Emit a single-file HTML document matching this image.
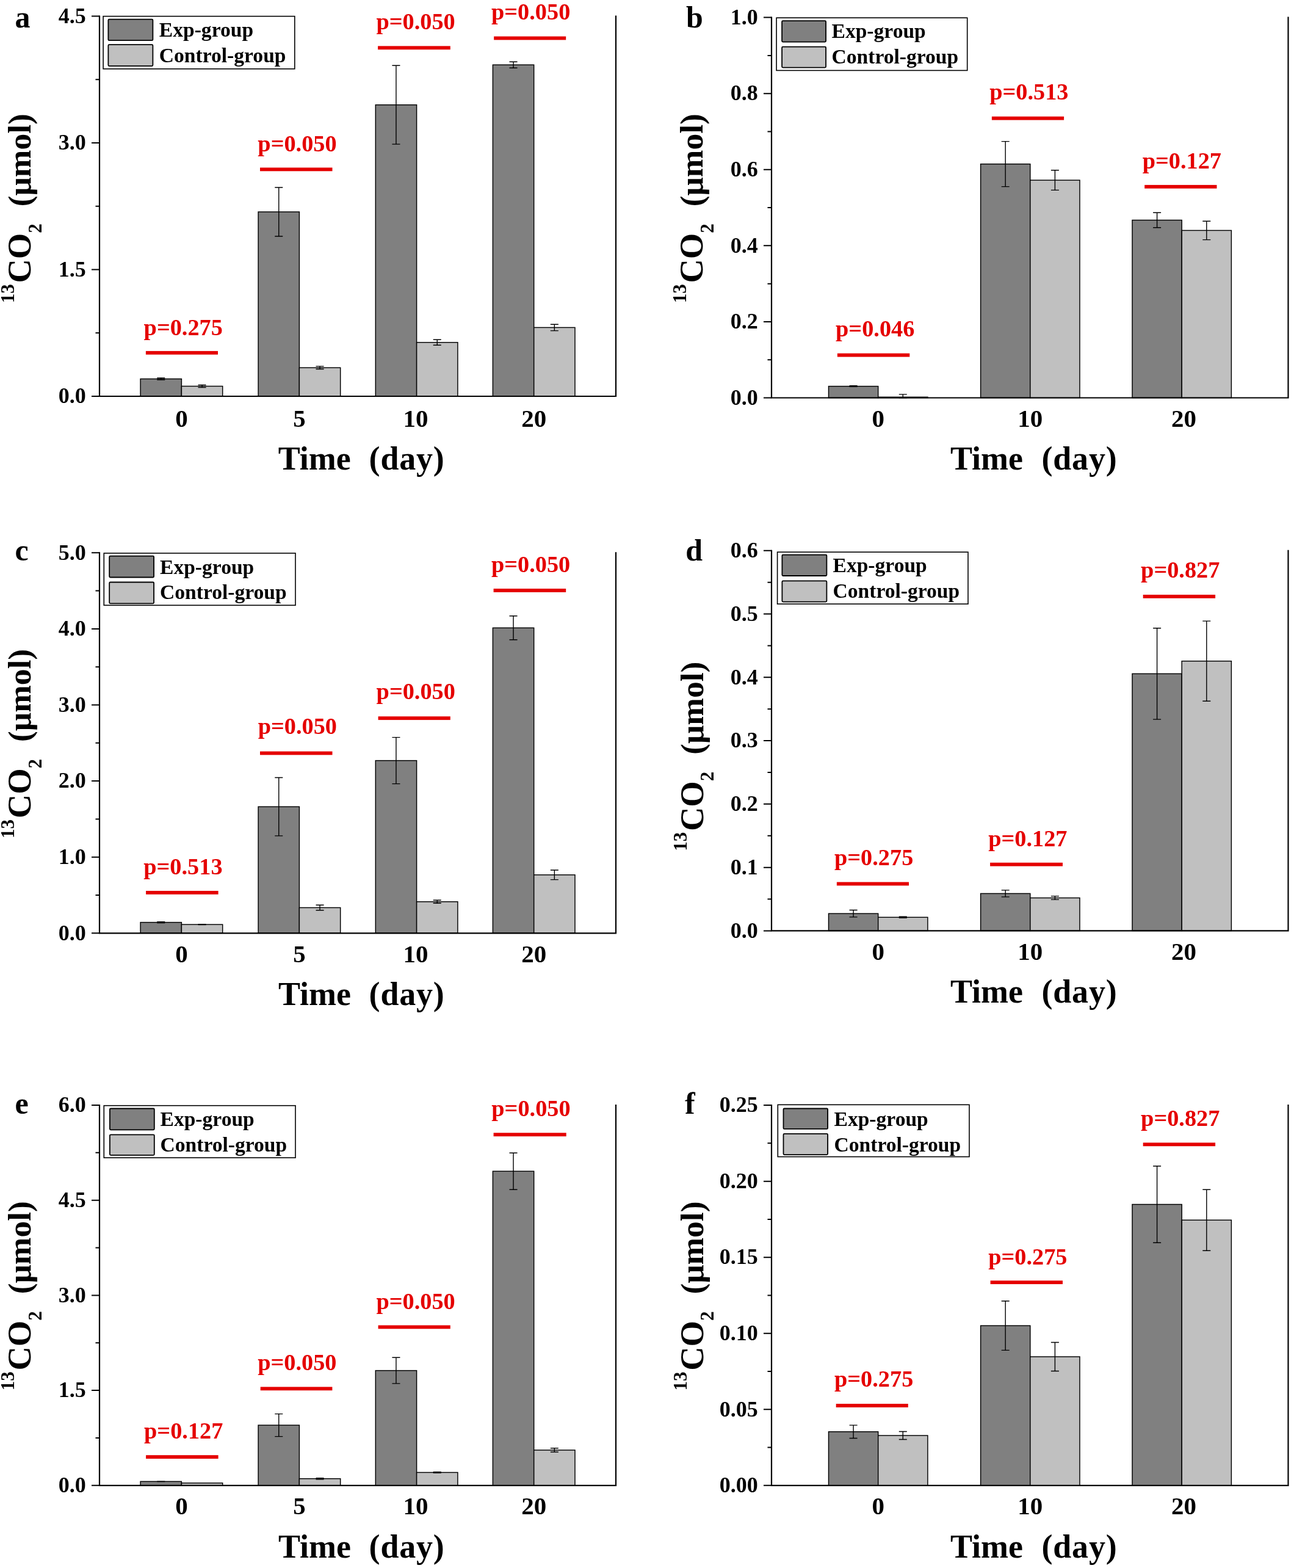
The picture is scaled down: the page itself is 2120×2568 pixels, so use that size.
<!DOCTYPE html><html><head><meta charset="utf-8"><title>13CO2 figure</title><style>html,body{margin:0;padding:0;background:#fff;}svg{display:block;}text{font-family:"Liberation Serif", "Times New Roman", serif;font-weight:bold;}</style></head><body>
<svg width="2120" height="2568" viewBox="0 0 2120 2568">
<rect x="0" y="0" width="2120" height="2568" fill="#fff"/>
<g>
<rect x="230.1" y="620.5" width="67.3" height="28.5" fill="#808080" stroke="#000" stroke-width="1.45"/>
<rect x="297.4" y="632.5" width="67.3" height="16.5" fill="#c0c0c0" stroke="#000" stroke-width="1.45"/>
<path d="M257.25 619H270.25M263.75 619V622M257.25 622H270.25" stroke="#000" stroke-width="1.4" fill="none"/>
<path d="M324.55 630.5H337.55M331.05 630.5V634.5M324.55 634.5H337.55" stroke="#000" stroke-width="1.4" fill="none"/>
<rect x="423.1" y="347" width="67.3" height="302" fill="#808080" stroke="#000" stroke-width="1.45"/>
<rect x="490.4" y="602.2" width="67.3" height="46.8" fill="#c0c0c0" stroke="#000" stroke-width="1.45"/>
<path d="M450.25 307H463.25M456.75 307V387M450.25 387H463.25" stroke="#000" stroke-width="1.4" fill="none"/>
<path d="M517.55 599.9H530.55M524.05 599.9V604.5M517.55 604.5H530.55" stroke="#000" stroke-width="1.4" fill="none"/>
<rect x="615.3" y="171.7" width="67.3" height="477.3" fill="#808080" stroke="#000" stroke-width="1.45"/>
<rect x="682.6" y="560.8" width="67.3" height="88.2" fill="#c0c0c0" stroke="#000" stroke-width="1.45"/>
<path d="M642.45 107.3H655.45M648.95 107.3V236.1M642.45 236.1H655.45" stroke="#000" stroke-width="1.4" fill="none"/>
<path d="M709.75 556.3H722.75M716.25 556.3V565.3M709.75 565.3H722.75" stroke="#000" stroke-width="1.4" fill="none"/>
<rect x="807.4" y="106.2" width="67.3" height="542.8" fill="#808080" stroke="#000" stroke-width="1.45"/>
<rect x="874.7" y="536.4" width="67.3" height="112.6" fill="#c0c0c0" stroke="#000" stroke-width="1.45"/>
<path d="M834.55 101.2H847.55M841.05 101.2V111.2M834.55 111.2H847.55" stroke="#000" stroke-width="1.4" fill="none"/>
<path d="M901.85 531.2H914.85M908.35 531.2V541.6M901.85 541.6H914.85" stroke="#000" stroke-width="1.4" fill="none"/>
<path d="M163 26.5V649H1009V26.5" stroke="#000" stroke-width="2.2" fill="none" stroke-linejoin="miter" stroke-linecap="square"/>
<path d="M150 649H163M156.5 545.25H163M150 441.5H163M156.5 337.75H163M150 234H163M156.5 130.25H163M150 26.5H163" stroke="#000" stroke-width="2" fill="none"/>
<text x="140.8" y="660.3" font-size="36" text-anchor="end">0.0</text>
<text x="140.8" y="452.8" font-size="36" text-anchor="end">1.5</text>
<text x="140.8" y="245.3" font-size="36" text-anchor="end">3.0</text>
<text x="140.8" y="37.8" font-size="36" text-anchor="end">4.5</text>
<text x="297.4" y="699" font-size="41" text-anchor="middle">0</text>
<text x="490.4" y="699" font-size="41" text-anchor="middle">5</text>
<text x="681.1" y="699" font-size="41" text-anchor="middle">10</text>
<text x="874.7" y="699" font-size="41" text-anchor="middle">20</text>
<text y="769.3" font-size="54"><tspan x="455.8">Time</tspan><tspan x="604.6" letter-spacing="0.8">(day)</tspan></text>
<text transform="rotate(-90)" font-size="53"><tspan x="-496.3" y="23" font-size="31">13</tspan><tspan x="-463.5" y="50" font-size="54.5">CO</tspan><tspan x="-381.8" y="67.5" font-size="31">2</tspan><tspan x="-338.3" y="50" font-size="53.5">(μmol)</tspan></text>
<text x="300.25" y="548.7" font-size="38.3" fill="#e50000" text-anchor="middle">p=0.275</text>
<rect x="238.9" y="574.9" width="118.1" height="5.8" fill="#e50000"/>
<text x="487" y="248" font-size="38.3" fill="#e50000" text-anchor="middle">p=0.050</text>
<rect x="426" y="274.5" width="118.5" height="5.8" fill="#e50000"/>
<text x="681.05" y="48.3" font-size="38.3" fill="#e50000" text-anchor="middle">p=0.050</text>
<rect x="619.1" y="75.4" width="118.7" height="5.8" fill="#e50000"/>
<text x="869.65" y="32.2" font-size="38.3" fill="#e50000" text-anchor="middle">p=0.050</text>
<rect x="809.2" y="59.6" width="118" height="5.8" fill="#e50000"/>
<rect x="169.1" y="26.65" width="313.7" height="86.15" fill="#fff" stroke="#000" stroke-width="1.6"/>
<rect x="177.4" y="31.7" width="73" height="34.5" fill="#808080" stroke="#000" stroke-width="1.8" rx="1.5"/>
<rect x="177.4" y="73.2" width="73" height="34.9" fill="#c0c0c0" stroke="#000" stroke-width="1.8" rx="1.5"/>
<text x="260.8" y="59.9" font-size="33.6">Exp-group</text>
<text x="260.8" y="101.7" font-size="33.6">Control-group</text>
<text x="24.6" y="45" font-size="50">a</text>
</g>
<g>
<rect x="1357.5" y="632.6" width="81.2" height="18.9" fill="#808080" stroke="#000" stroke-width="1.45"/>
<rect x="1438.7" y="650.3" width="81.2" height="1.2" fill="#c0c0c0" stroke="#000" stroke-width="1.45"/>
<path d="M1391.6 631.8H1404.6M1398.1 631.8V633.4M1391.6 633.4H1404.6" stroke="#000" stroke-width="1.4" fill="none"/>
<path d="M1472.8 645.9H1485.8M1479.3 645.9V651.5M1472.8 651.5H1485.8" stroke="#000" stroke-width="1.4" fill="none"/>
<rect x="1606.6" y="268.6" width="81.2" height="382.9" fill="#808080" stroke="#000" stroke-width="1.45"/>
<rect x="1687.8" y="295.1" width="81.2" height="356.4" fill="#c0c0c0" stroke="#000" stroke-width="1.45"/>
<path d="M1640.7 231.6H1653.7M1647.2 231.6V305.6M1640.7 305.6H1653.7" stroke="#000" stroke-width="1.4" fill="none"/>
<path d="M1721.9 278.8H1734.9M1728.4 278.8V311.4M1721.9 311.4H1734.9" stroke="#000" stroke-width="1.4" fill="none"/>
<rect x="1855" y="360.5" width="81.2" height="291" fill="#808080" stroke="#000" stroke-width="1.45"/>
<rect x="1936.2" y="377.4" width="81.2" height="274.1" fill="#c0c0c0" stroke="#000" stroke-width="1.45"/>
<path d="M1889.1 348.2H1902.1M1895.6 348.2V372.8M1889.1 372.8H1902.1" stroke="#000" stroke-width="1.4" fill="none"/>
<path d="M1970.3 362.2H1983.3M1976.8 362.2V392.6M1970.3 392.6H1983.3" stroke="#000" stroke-width="1.4" fill="none"/>
<path d="M1264 28.6V651.5H2110.5V28.6" stroke="#000" stroke-width="2.2" fill="none" stroke-linejoin="miter" stroke-linecap="square"/>
<path d="M1251 651.5H1264M1257.5 589.21H1264M1251 526.92H1264M1257.5 464.63H1264M1251 402.34H1264M1257.5 340.05H1264M1251 277.76H1264M1257.5 215.47H1264M1251 153.18H1264M1257.5 90.89H1264M1251 28.6H1264" stroke="#000" stroke-width="2" fill="none"/>
<text x="1241.8" y="662.8" font-size="36" text-anchor="end">0.0</text>
<text x="1241.8" y="538.22" font-size="36" text-anchor="end">0.2</text>
<text x="1241.8" y="413.64" font-size="36" text-anchor="end">0.4</text>
<text x="1241.8" y="289.06" font-size="36" text-anchor="end">0.6</text>
<text x="1241.8" y="164.48" font-size="36" text-anchor="end">0.8</text>
<text x="1241.8" y="39.9" font-size="36" text-anchor="end">1.0</text>
<text x="1438.7" y="699" font-size="41" text-anchor="middle">0</text>
<text x="1687.8" y="699" font-size="41" text-anchor="middle">10</text>
<text x="1939.4" y="699" font-size="41" text-anchor="middle">20</text>
<text y="769.1" font-size="54"><tspan x="1557">Time</tspan><tspan x="1706.5" letter-spacing="0.8">(day)</tspan></text>
<text transform="rotate(-90)" font-size="53"><tspan x="-496.3" y="1124.3" font-size="31">13</tspan><tspan x="-463.5" y="1151.3" font-size="54.5">CO</tspan><tspan x="-381.8" y="1168.8" font-size="31">2</tspan><tspan x="-338.3" y="1151.3" font-size="53.5">(μmol)</tspan></text>
<text x="1433.7" y="551" font-size="38.3" fill="#e50000" text-anchor="middle">p=0.046</text>
<rect x="1371.9" y="578.7" width="118.4" height="5.8" fill="#e50000"/>
<text x="1685.8" y="163" font-size="38.3" fill="#e50000" text-anchor="middle">p=0.513</text>
<rect x="1624.9" y="190.8" width="118.2" height="5.8" fill="#e50000"/>
<text x="1936.35" y="275.5" font-size="38.3" fill="#e50000" text-anchor="middle">p=0.127</text>
<rect x="1875.2" y="302.9" width="118.3" height="5.8" fill="#e50000"/>
<rect x="1272.1" y="29.2" width="312.6" height="86.2" fill="#fff" stroke="#000" stroke-width="1.6"/>
<rect x="1281.1" y="34.2" width="72" height="34.4" fill="#808080" stroke="#000" stroke-width="1.8" rx="1.5"/>
<rect x="1281.1" y="76.7" width="72" height="33.9" fill="#c0c0c0" stroke="#000" stroke-width="1.8" rx="1.5"/>
<text x="1362.5" y="62.1" font-size="33.6">Exp-group</text>
<text x="1362.5" y="104.2" font-size="33.6">Control-group</text>
<text x="1124" y="45" font-size="50">b</text>
</g>
<g>
<rect x="230.1" y="1510.6" width="67.3" height="17.7" fill="#808080" stroke="#000" stroke-width="1.45"/>
<rect x="297.4" y="1514.1" width="67.3" height="14.2" fill="#c0c0c0" stroke="#000" stroke-width="1.45"/>
<path d="M257.25 1509.6H270.25M263.75 1509.6V1511.6M257.25 1511.6H270.25" stroke="#000" stroke-width="1.4" fill="none"/>
<path d="M324.55 1513.6H337.55M331.05 1513.6V1514.6M324.55 1514.6H337.55" stroke="#000" stroke-width="1.4" fill="none"/>
<rect x="423.1" y="1321.2" width="67.3" height="207.1" fill="#808080" stroke="#000" stroke-width="1.45"/>
<rect x="490.4" y="1486.5" width="67.3" height="41.8" fill="#c0c0c0" stroke="#000" stroke-width="1.45"/>
<path d="M450.25 1273.5H463.25M456.75 1273.5V1368.9M450.25 1368.9H463.25" stroke="#000" stroke-width="1.4" fill="none"/>
<path d="M517.55 1482.2H530.55M524.05 1482.2V1490.8M517.55 1490.8H530.55" stroke="#000" stroke-width="1.4" fill="none"/>
<rect x="615.3" y="1245.6" width="67.3" height="282.7" fill="#808080" stroke="#000" stroke-width="1.45"/>
<rect x="682.6" y="1476.8" width="67.3" height="51.5" fill="#c0c0c0" stroke="#000" stroke-width="1.45"/>
<path d="M642.45 1207.6H655.45M648.95 1207.6V1283.6M642.45 1283.6H655.45" stroke="#000" stroke-width="1.4" fill="none"/>
<path d="M709.75 1474.3H722.75M716.25 1474.3V1479.3M709.75 1479.3H722.75" stroke="#000" stroke-width="1.4" fill="none"/>
<rect x="807.4" y="1028.3" width="67.3" height="500" fill="#808080" stroke="#000" stroke-width="1.45"/>
<rect x="874.7" y="1432.8" width="67.3" height="95.5" fill="#c0c0c0" stroke="#000" stroke-width="1.45"/>
<path d="M834.55 1008.8H847.55M841.05 1008.8V1047.8M834.55 1047.8H847.55" stroke="#000" stroke-width="1.4" fill="none"/>
<path d="M901.85 1425H914.85M908.35 1425V1440.6M901.85 1440.6H914.85" stroke="#000" stroke-width="1.4" fill="none"/>
<path d="M163 905.3V1528.3H1009V905.3" stroke="#000" stroke-width="2.2" fill="none" stroke-linejoin="miter" stroke-linecap="square"/>
<path d="M150 1528.3H163M156.5 1466H163M150 1403.7H163M156.5 1341.4H163M150 1279.1H163M156.5 1216.8H163M150 1154.5H163M156.5 1092.2H163M150 1029.9H163M156.5 967.6H163M150 905.3H163" stroke="#000" stroke-width="2" fill="none"/>
<text x="140.8" y="1539.6" font-size="36" text-anchor="end">0.0</text>
<text x="140.8" y="1415" font-size="36" text-anchor="end">1.0</text>
<text x="140.8" y="1290.4" font-size="36" text-anchor="end">2.0</text>
<text x="140.8" y="1165.8" font-size="36" text-anchor="end">3.0</text>
<text x="140.8" y="1041.2" font-size="36" text-anchor="end">4.0</text>
<text x="140.8" y="916.6" font-size="36" text-anchor="end">5.0</text>
<text x="297.4" y="1575.5" font-size="41" text-anchor="middle">0</text>
<text x="490.4" y="1575.5" font-size="41" text-anchor="middle">5</text>
<text x="681.1" y="1575.5" font-size="41" text-anchor="middle">10</text>
<text x="874.7" y="1575.5" font-size="41" text-anchor="middle">20</text>
<text y="1646.4" font-size="54"><tspan x="456">Time</tspan><tspan x="604.6" letter-spacing="0.8">(day)</tspan></text>
<text transform="rotate(-90)" font-size="53"><tspan x="-1373" y="23" font-size="31">13</tspan><tspan x="-1340.2" y="50" font-size="54.5">CO</tspan><tspan x="-1258.5" y="67.5" font-size="31">2</tspan><tspan x="-1215" y="50" font-size="53.5">(μmol)</tspan></text>
<text x="299.9" y="1431.5" font-size="38.3" fill="#e50000" text-anchor="middle">p=0.513</text>
<rect x="239.1" y="1459" width="118.5" height="5.8" fill="#e50000"/>
<text x="487.35" y="1202.2" font-size="38.3" fill="#e50000" text-anchor="middle">p=0.050</text>
<rect x="426" y="1230.6" width="118.5" height="5.8" fill="#e50000"/>
<text x="681.25" y="1145.3" font-size="38.3" fill="#e50000" text-anchor="middle">p=0.050</text>
<rect x="619.6" y="1173.3" width="118.2" height="5.8" fill="#e50000"/>
<text x="869.6" y="936.8" font-size="38.3" fill="#e50000" text-anchor="middle">p=0.050</text>
<rect x="808.6" y="964.1" width="118.6" height="5.8" fill="#e50000"/>
<rect x="170.3" y="906" width="313.7" height="85.3" fill="#fff" stroke="#000" stroke-width="1.6"/>
<rect x="179.2" y="910.6" width="72.9" height="34.9" fill="#808080" stroke="#000" stroke-width="1.8" rx="1.5"/>
<rect x="179.2" y="953.5" width="72.9" height="34.8" fill="#c0c0c0" stroke="#000" stroke-width="1.8" rx="1.5"/>
<text x="262" y="939.5" font-size="33.6">Exp-group</text>
<text x="262" y="981.3" font-size="33.6">Control-group</text>
<text x="24.6" y="918" font-size="50">c</text>
</g>
<g>
<rect x="1357.5" y="1496.2" width="81.2" height="28.2" fill="#808080" stroke="#000" stroke-width="1.45"/>
<rect x="1438.7" y="1502.3" width="81.2" height="22.1" fill="#c0c0c0" stroke="#000" stroke-width="1.45"/>
<path d="M1391.6 1490.5H1404.6M1398.1 1490.5V1501.9M1391.6 1501.9H1404.6" stroke="#000" stroke-width="1.4" fill="none"/>
<path d="M1472.8 1501.3H1485.8M1479.3 1501.3V1503.3M1472.8 1503.3H1485.8" stroke="#000" stroke-width="1.4" fill="none"/>
<rect x="1606.6" y="1463.4" width="81.2" height="61" fill="#808080" stroke="#000" stroke-width="1.45"/>
<rect x="1687.8" y="1470.5" width="81.2" height="53.9" fill="#c0c0c0" stroke="#000" stroke-width="1.45"/>
<path d="M1640.7 1457.9H1653.7M1647.2 1457.9V1468.9M1640.7 1468.9H1653.7" stroke="#000" stroke-width="1.4" fill="none"/>
<path d="M1721.9 1467.6H1734.9M1728.4 1467.6V1473.4M1721.9 1473.4H1734.9" stroke="#000" stroke-width="1.4" fill="none"/>
<rect x="1855" y="1103.4" width="81.2" height="421" fill="#808080" stroke="#000" stroke-width="1.45"/>
<rect x="1936.2" y="1082.7" width="81.2" height="441.7" fill="#c0c0c0" stroke="#000" stroke-width="1.45"/>
<path d="M1889.1 1028.7H1902.1M1895.6 1028.7V1178.1M1889.1 1178.1H1902.1" stroke="#000" stroke-width="1.4" fill="none"/>
<path d="M1970.3 1017.1H1983.3M1976.8 1017.1V1148.3M1970.3 1148.3H1983.3" stroke="#000" stroke-width="1.4" fill="none"/>
<path d="M1264 901.8V1524.4H2110.5V901.8" stroke="#000" stroke-width="2.2" fill="none" stroke-linejoin="miter" stroke-linecap="square"/>
<path d="M1251 1524.4H1264M1257.5 1472.52H1264M1251 1420.63H1264M1257.5 1368.75H1264M1251 1316.87H1264M1257.5 1264.98H1264M1251 1213.1H1264M1257.5 1161.22H1264M1251 1109.33H1264M1257.5 1057.45H1264M1251 1005.57H1264M1257.5 953.68H1264M1251 901.8H1264" stroke="#000" stroke-width="2" fill="none"/>
<text x="1241.8" y="1535.7" font-size="36" text-anchor="end">0.0</text>
<text x="1241.8" y="1431.93" font-size="36" text-anchor="end">0.1</text>
<text x="1241.8" y="1328.17" font-size="36" text-anchor="end">0.2</text>
<text x="1241.8" y="1224.4" font-size="36" text-anchor="end">0.3</text>
<text x="1241.8" y="1120.63" font-size="36" text-anchor="end">0.4</text>
<text x="1241.8" y="1016.87" font-size="36" text-anchor="end">0.5</text>
<text x="1241.8" y="913.1" font-size="36" text-anchor="end">0.6</text>
<text x="1438.7" y="1572" font-size="41" text-anchor="middle">0</text>
<text x="1687.8" y="1572" font-size="41" text-anchor="middle">10</text>
<text x="1939.4" y="1572" font-size="41" text-anchor="middle">20</text>
<text y="1642.3" font-size="54"><tspan x="1556.9">Time</tspan><tspan x="1706.5" letter-spacing="0.8">(day)</tspan></text>
<text transform="rotate(-90)" font-size="53"><tspan x="-1393.8" y="1124.5" font-size="31">13</tspan><tspan x="-1361" y="1151.5" font-size="54.5">CO</tspan><tspan x="-1279.3" y="1169" font-size="31">2</tspan><tspan x="-1235.8" y="1151.5" font-size="53.5">(μmol)</tspan></text>
<text x="1431.65" y="1416.5" font-size="38.3" fill="#e50000" text-anchor="middle">p=0.275</text>
<rect x="1370.9" y="1444.6" width="118.1" height="5.8" fill="#e50000"/>
<text x="1683.85" y="1386.1" font-size="38.3" fill="#e50000" text-anchor="middle">p=0.127</text>
<rect x="1622.1" y="1412.8" width="118.9" height="5.8" fill="#e50000"/>
<text x="1933.75" y="946.2" font-size="38.3" fill="#e50000" text-anchor="middle">p=0.827</text>
<rect x="1872.7" y="974" width="118.4" height="5.8" fill="#e50000"/>
<rect x="1273.6" y="904.2" width="312.4" height="85" fill="#fff" stroke="#000" stroke-width="1.6"/>
<rect x="1281.4" y="908.6" width="73" height="34.4" fill="#808080" stroke="#000" stroke-width="1.8" rx="1.5"/>
<rect x="1281.4" y="951.4" width="73" height="34.2" fill="#c0c0c0" stroke="#000" stroke-width="1.8" rx="1.5"/>
<text x="1364.5" y="937.4" font-size="33.6">Exp-group</text>
<text x="1364.5" y="979.2" font-size="33.6">Control-group</text>
<text x="1123.3" y="918" font-size="50">d</text>
</g>
<g>
<rect x="230.1" y="2426.3" width="67.3" height="6.5" fill="#808080" stroke="#000" stroke-width="1.45"/>
<rect x="297.4" y="2428.8" width="67.3" height="4" fill="#c0c0c0" stroke="#000" stroke-width="1.45"/>
<path d="M257.25 2426.1H270.25M263.75 2426.1V2426.5M257.25 2426.5H270.25" stroke="#000" stroke-width="1.4" fill="none"/>
<rect x="423.1" y="2334.1" width="67.3" height="98.7" fill="#808080" stroke="#000" stroke-width="1.45"/>
<rect x="490.4" y="2421.7" width="67.3" height="11.1" fill="#c0c0c0" stroke="#000" stroke-width="1.45"/>
<path d="M450.25 2315.6H463.25M456.75 2315.6V2352.6M450.25 2352.6H463.25" stroke="#000" stroke-width="1.4" fill="none"/>
<path d="M517.55 2420.7H530.55M524.05 2420.7V2422.7M517.55 2422.7H530.55" stroke="#000" stroke-width="1.4" fill="none"/>
<rect x="615.3" y="2244.6" width="67.3" height="188.2" fill="#808080" stroke="#000" stroke-width="1.45"/>
<rect x="682.6" y="2411.5" width="67.3" height="21.3" fill="#c0c0c0" stroke="#000" stroke-width="1.45"/>
<path d="M642.45 2223.3H655.45M648.95 2223.3V2265.9M642.45 2265.9H655.45" stroke="#000" stroke-width="1.4" fill="none"/>
<path d="M709.75 2410.7H722.75M716.25 2410.7V2412.3M709.75 2412.3H722.75" stroke="#000" stroke-width="1.4" fill="none"/>
<rect x="807.4" y="1918.2" width="67.3" height="514.6" fill="#808080" stroke="#000" stroke-width="1.45"/>
<rect x="874.7" y="2374.9" width="67.3" height="57.9" fill="#c0c0c0" stroke="#000" stroke-width="1.45"/>
<path d="M834.55 1888.2H847.55M841.05 1888.2V1948.2M834.55 1948.2H847.55" stroke="#000" stroke-width="1.4" fill="none"/>
<path d="M901.85 2371.8H914.85M908.35 2371.8V2378M901.85 2378H914.85" stroke="#000" stroke-width="1.4" fill="none"/>
<path d="M163 1810V2432.8H1009V1810" stroke="#000" stroke-width="2.2" fill="none" stroke-linejoin="miter" stroke-linecap="square"/>
<path d="M150 2432.8H163M156.5 2354.95H163M150 2277.1H163M156.5 2199.25H163M150 2121.4H163M156.5 2043.55H163M150 1965.7H163M156.5 1887.85H163M150 1810H163" stroke="#000" stroke-width="2" fill="none"/>
<text x="140.8" y="2444.1" font-size="36" text-anchor="end">0.0</text>
<text x="140.8" y="2288.4" font-size="36" text-anchor="end">1.5</text>
<text x="140.8" y="2132.7" font-size="36" text-anchor="end">3.0</text>
<text x="140.8" y="1977" font-size="36" text-anchor="end">4.5</text>
<text x="140.8" y="1821.3" font-size="36" text-anchor="end">6.0</text>
<text x="297.4" y="2480" font-size="41" text-anchor="middle">0</text>
<text x="490.4" y="2480" font-size="41" text-anchor="middle">5</text>
<text x="681.1" y="2480" font-size="41" text-anchor="middle">10</text>
<text x="874.7" y="2480" font-size="41" text-anchor="middle">20</text>
<text y="2550.6" font-size="54"><tspan x="456">Time</tspan><tspan x="604.6" letter-spacing="0.8">(day)</tspan></text>
<text transform="rotate(-90)" font-size="53"><tspan x="-2277.3" y="23" font-size="31">13</tspan><tspan x="-2244.5" y="50" font-size="54.5">CO</tspan><tspan x="-2162.8" y="67.5" font-size="31">2</tspan><tspan x="-2119.3" y="50" font-size="53.5">(μmol)</tspan></text>
<text x="300.7" y="2355.9" font-size="38.3" fill="#e50000" text-anchor="middle">p=0.127</text>
<rect x="239.1" y="2383.2" width="118.5" height="5.8" fill="#e50000"/>
<text x="486.8" y="2243.7" font-size="38.3" fill="#e50000" text-anchor="middle">p=0.050</text>
<rect x="426.7" y="2271.4" width="117.7" height="5.8" fill="#e50000"/>
<text x="681.05" y="2143.6" font-size="38.3" fill="#e50000" text-anchor="middle">p=0.050</text>
<rect x="619.6" y="2170.5" width="118.2" height="5.8" fill="#e50000"/>
<text x="869.95" y="1827.5" font-size="38.3" fill="#e50000" text-anchor="middle">p=0.050</text>
<rect x="808.6" y="1855.3" width="119.1" height="5.8" fill="#e50000"/>
<rect x="170.3" y="1810.7" width="313.7" height="85.4" fill="#fff" stroke="#000" stroke-width="1.6"/>
<rect x="179.9" y="1815.5" width="72.9" height="34.8" fill="#808080" stroke="#000" stroke-width="1.8" rx="1.5"/>
<rect x="179.9" y="1858.3" width="72.9" height="33.5" fill="#c0c0c0" stroke="#000" stroke-width="1.8" rx="1.5"/>
<text x="262.5" y="1844.2" font-size="33.6">Exp-group</text>
<text x="262.5" y="1886" font-size="33.6">Control-group</text>
<text x="24.6" y="1824" font-size="50">e</text>
</g>
<g>
<rect x="1357.5" y="2344.8" width="81.2" height="88" fill="#808080" stroke="#000" stroke-width="1.45"/>
<rect x="1438.7" y="2351" width="81.2" height="81.8" fill="#c0c0c0" stroke="#000" stroke-width="1.45"/>
<path d="M1391.6 2334.1H1404.6M1398.1 2334.1V2355.5M1391.6 2355.5H1404.6" stroke="#000" stroke-width="1.4" fill="none"/>
<path d="M1472.8 2344.5H1485.8M1479.3 2344.5V2357.5M1472.8 2357.5H1485.8" stroke="#000" stroke-width="1.4" fill="none"/>
<rect x="1606.6" y="2171.1" width="81.2" height="261.7" fill="#808080" stroke="#000" stroke-width="1.45"/>
<rect x="1687.8" y="2222" width="81.2" height="210.8" fill="#c0c0c0" stroke="#000" stroke-width="1.45"/>
<path d="M1640.7 2130.8H1653.7M1647.2 2130.8V2211.4M1640.7 2211.4H1653.7" stroke="#000" stroke-width="1.4" fill="none"/>
<path d="M1721.9 2198.5H1734.9M1728.4 2198.5V2245.5M1721.9 2245.5H1734.9" stroke="#000" stroke-width="1.4" fill="none"/>
<rect x="1855" y="1972.5" width="81.2" height="460.3" fill="#808080" stroke="#000" stroke-width="1.45"/>
<rect x="1936.2" y="1998.2" width="81.2" height="434.6" fill="#c0c0c0" stroke="#000" stroke-width="1.45"/>
<path d="M1889.1 1909.8H1902.1M1895.6 1909.8V2035.2M1889.1 2035.2H1902.1" stroke="#000" stroke-width="1.4" fill="none"/>
<path d="M1970.3 1948.2H1983.3M1976.8 1948.2V2048.2M1970.3 2048.2H1983.3" stroke="#000" stroke-width="1.4" fill="none"/>
<path d="M1264 1810.1V2432.8H2110.5V1810.1" stroke="#000" stroke-width="2.2" fill="none" stroke-linejoin="miter" stroke-linecap="square"/>
<path d="M1251 2432.8H1264M1257.5 2370.53H1264M1251 2308.26H1264M1257.5 2245.99H1264M1251 2183.72H1264M1257.5 2121.45H1264M1251 2059.18H1264M1257.5 1996.91H1264M1251 1934.64H1264M1257.5 1872.37H1264M1251 1810.1H1264" stroke="#000" stroke-width="2" fill="none"/>
<text x="1241.8" y="2444.1" font-size="36" text-anchor="end">0.00</text>
<text x="1241.8" y="2319.56" font-size="36" text-anchor="end">0.05</text>
<text x="1241.8" y="2195.02" font-size="36" text-anchor="end">0.10</text>
<text x="1241.8" y="2070.48" font-size="36" text-anchor="end">0.15</text>
<text x="1241.8" y="1945.94" font-size="36" text-anchor="end">0.20</text>
<text x="1241.8" y="1821.4" font-size="36" text-anchor="end">0.25</text>
<text x="1438.7" y="2480" font-size="41" text-anchor="middle">0</text>
<text x="1687.8" y="2480" font-size="41" text-anchor="middle">10</text>
<text x="1939.4" y="2480" font-size="41" text-anchor="middle">20</text>
<text y="2550.6" font-size="54"><tspan x="1556.9">Time</tspan><tspan x="1706.5" letter-spacing="0.8">(day)</tspan></text>
<text transform="rotate(-90)" font-size="53"><tspan x="-2277.6" y="1124.5" font-size="31">13</tspan><tspan x="-2244.8" y="1151.5" font-size="54.5">CO</tspan><tspan x="-2163.1" y="1169" font-size="31">2</tspan><tspan x="-2119.6" y="1151.5" font-size="53.5">(μmol)</tspan></text>
<text x="1431.65" y="2271.1" font-size="38.3" fill="#e50000" text-anchor="middle">p=0.275</text>
<rect x="1369.7" y="2299.1" width="118.1" height="5.8" fill="#e50000"/>
<text x="1683.85" y="2070.9" font-size="38.3" fill="#e50000" text-anchor="middle">p=0.275</text>
<rect x="1622.6" y="2097.3" width="118.4" height="5.8" fill="#e50000"/>
<text x="1933.75" y="1843.8" font-size="38.3" fill="#e50000" text-anchor="middle">p=0.827</text>
<rect x="1872.7" y="1871.4" width="118.4" height="5.8" fill="#e50000"/>
<rect x="1274.3" y="1809.3" width="313.7" height="85.2" fill="#fff" stroke="#000" stroke-width="1.6"/>
<rect x="1283.5" y="1815.5" width="72.6" height="33.4" fill="#808080" stroke="#000" stroke-width="1.8" rx="1.5"/>
<rect x="1283.5" y="1856.9" width="72.6" height="34.2" fill="#c0c0c0" stroke="#000" stroke-width="1.8" rx="1.5"/>
<text x="1366.5" y="1843.5" font-size="33.6">Exp-group</text>
<text x="1366.5" y="1885.5" font-size="33.6">Control-group</text>
<text x="1122" y="1824" font-size="50">f</text>
</g>
</svg></body></html>
